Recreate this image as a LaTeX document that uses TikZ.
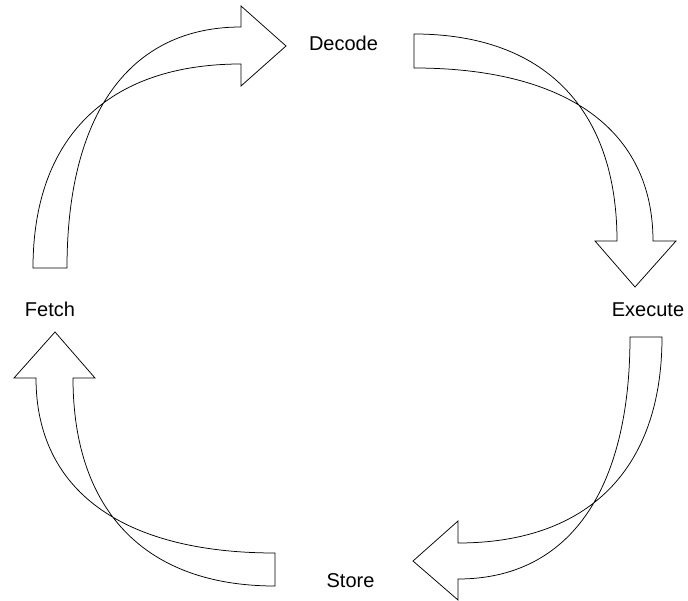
\documentclass[tikz,border=0pt]{standalone}
\usepackage{fontspec}
\setmainfont{Liberation Sans}
\begin{document}
\begin{tikzpicture}[x=1pt,y=-1pt,
  ribbon/.style={draw=black,fill=white,line width=0.75pt,line join=miter},
  stage/.style={font=\fontsize{20}{24}\selectfont,inner sep=0pt,anchor=base}]
\useasboundingbox (0,0) rectangle (688,601);

% Fetch -> Decode
\draw[ribbon] (33,268) .. controls (33,137.4) and (107.9,64) .. (241,64)
  -- (241,86) -- (286,46) -- (241,6) -- (241,27)
  .. controls (129.6,27) and (67,113.8) .. (67,268) -- cycle;

% Decode -> Execute
\draw[ribbon] (414,34) .. controls (543.9,34) and (617,108.5) .. (617,241)
  -- (595,241) -- (635,287) -- (676,241) -- (653,241)
  .. controls (653,130.3) and (567,68) .. (414,68) -- cycle;

% Execute -> Store
\draw[ribbon] (630,337) .. controls (630,491.9) and (568.1,579) .. (458,579)
  -- (458,600) -- (413,561) -- (458,521) -- (458,543)
  .. controls (588.6,543) and (662,468.8) .. (662,337) -- cycle;

% Store -> Fetch
\draw[ribbon] (275,553) .. controls (122,553) and (36,490) .. (36,378)
  -- (14,378) -- (55,332) -- (95,378) -- (73,378)
  .. controls (73,511.1) and (145.7,586) .. (275,586) -- cycle;

% stage labels
\node[stage] (decode)  at (343.5,51)  {Decode};
\node[stage] (fetch)   at (50,316.7)  {Fetch};
\node[stage] (execute) at (648,316.7) {Execute};
\node[stage] (store)   at (350.5,587.7) {Store};
\end{tikzpicture}
\end{document}
